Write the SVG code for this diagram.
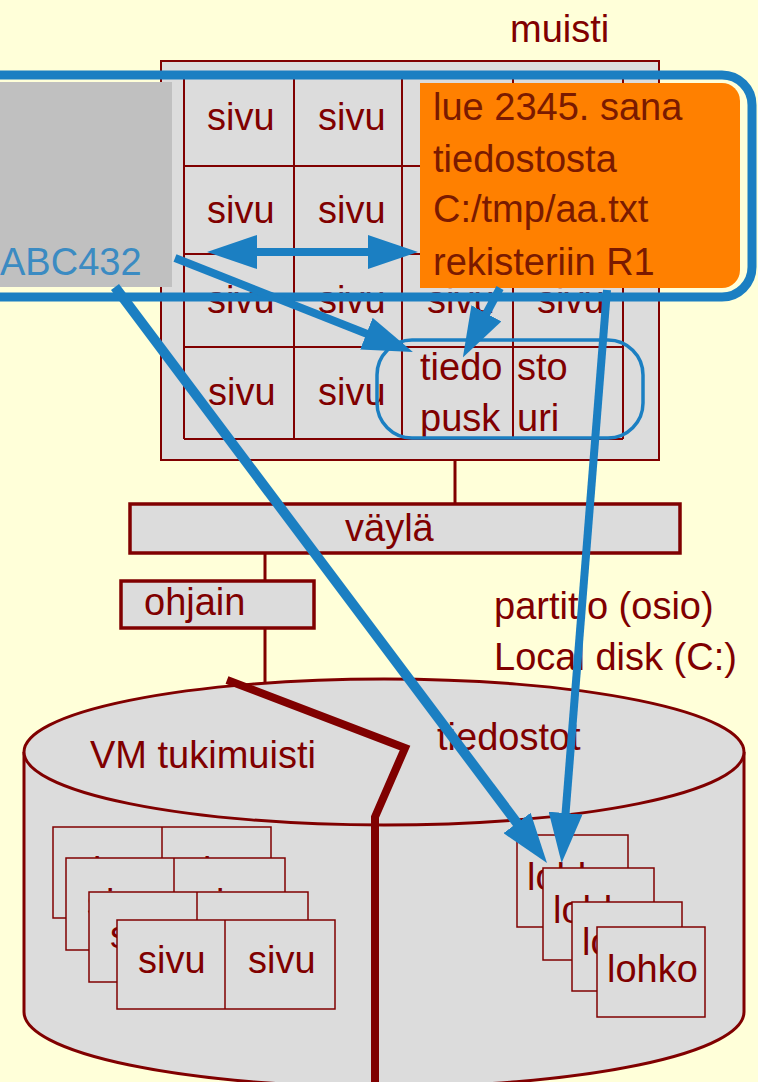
<svg xmlns="http://www.w3.org/2000/svg" width="758" height="1082" viewBox="0 0 758 1082">
<defs>
<style>
text{font-family:"Liberation Sans",Arial,sans-serif;font-size:38px;fill:#800000}
.box{fill:#dcdcdc;stroke:#800000;stroke-width:2}
.thick{fill:#dcdcdc;stroke:#800000;stroke-width:3.5}
.pg{fill:#dcdcdc;stroke:#800000;stroke-width:1.5}
.grid{stroke:#800000;stroke-width:2;fill:none}
.stem{stroke:#800000;stroke-width:3;fill:none}
.blue{stroke:#1b7fc2;fill:none}
.otxt{fill:#7a1a00}
</style>
<marker id="ah" markerUnits="userSpaceOnUse" markerWidth="50" markerHeight="34" viewBox="0 0 50 34" refX="20" refY="17" orient="auto-start-reverse"><path d="M0,0 L50,17 L0,34 z" fill="#1b7fc2"/></marker>
</defs>
<rect x="0" y="0" width="758" height="1082" fill="#ffffd9"/>

<g id="memory">
<rect class="box" x="161" y="61" width="498" height="399"/>
<path class="grid" d="M184,78V439M294,78V439M402,78V439M513,78V439M623,78V439M184,78H623M184,166H623M184,254H623M184,347H623M184,439H623"/>
<text x="510" y="42">muisti</text>
<text x="207" y="130">sivu</text><text x="318" y="130">sivu</text>
<text x="207" y="223">sivu</text><text x="318" y="223">sivu</text>
<text x="207" y="313">sivu</text><text x="318" y="313">sivu</text><text x="427" y="313">sivu</text><text x="537" y="313">sivu</text>
<text x="208" y="405">sivu</text><text x="318" y="405">sivu</text>
<text x="420" y="380">tiedo</text><text x="517" y="380">sto</text>
<text x="420" y="431">pusk</text><text x="517" y="431">uri</text>
</g>

<g id="process">
<rect x="0" y="82" width="172" height="205" fill="#c0c0c0"/>
<text x="0" y="275" style="fill:#3b8bc2">ABC432</text>
</g>

<g id="request">
<path d="M420,83H722A18,18 0 0 1 740,101V270A18,18 0 0 1 722,288H420Z" fill="#ff8000"/>
<text class="otxt" x="433" y="120">lue 2345. sana</text>
<text class="otxt" x="433" y="172">tiedostosta</text>
<text class="otxt" x="433" y="222">C:/tmp/aa.txt</text>
<text class="otxt" x="433" y="275">rekisteriin R1</text>
</g>

<g id="bus">
<path class="stem" d="M455,460V503"/>
<rect class="thick" x="130" y="504" width="550" height="49"/>
<text x="345" y="541">väylä</text>
</g>

<g id="controller">
<path class="stem" d="M265,553V580M265,628V683"/>
<rect class="thick" x="121" y="581" width="193" height="47"/>
<text x="144" y="615">ohjain</text>
</g>

<g id="partition-label">
<text x="494" y="619">partitio (osio)</text>
<text x="494" y="670">Local disk (C:)</text>
</g>

<g id="disk">
<path d="M24,752V1012A360,75 0 0 0 744,1012V752" fill="#dcdcdc" stroke="#800000" stroke-width="3"/>
<ellipse cx="384" cy="752" rx="360" ry="73" fill="#dcdcdc" stroke="#800000" stroke-width="3"/>
<polyline points="227,680 405,748 375,817 375,1082" fill="none" stroke="#800000" stroke-width="8"/>
<text x="90" y="768">VM tukimuisti</text>
<text x="437" y="750">tiedostot</text>
</g>

<g id="swap-pages">
<rect class="pg" x="53" y="827" width="218" height="91"/><path class="grid" style="stroke-width:1.5" d="M162,827V918"/>
<text x="74" y="884">sivu</text><text x="184" y="884">sivu</text>
<rect class="pg" x="66" y="858" width="219" height="92"/><path class="grid" style="stroke-width:1.5" d="M174,858V950"/>
<text x="87" y="916">sivu</text><text x="197" y="916">sivu</text>
<rect class="pg" x="89" y="892" width="219" height="90"/><path class="grid" style="stroke-width:1.5" d="M197,892V982"/>
<text x="110" y="948">sivu</text><text x="220" y="948">sivu</text>
<rect class="pg" x="117" y="920" width="218" height="89"/><path class="grid" style="stroke-width:1.5" d="M225,920V1009"/>
<text x="138" y="973">sivu</text><text x="248" y="973">sivu</text>
</g>

<g id="file-blocks">
<rect class="pg" x="517" y="835" width="111" height="92"/><text x="527" y="890">lohko</text>
<rect class="pg" x="543" y="868" width="111" height="92"/><text x="553" y="923">lohko</text>
<rect class="pg" x="572" y="902" width="110" height="89"/><text x="582" y="955">lohko</text>
<rect class="pg" x="597" y="927" width="108" height="90"/><text x="607" y="982">lohko</text>
</g>

<g id="connectors">
<rect class="blue" x="-40" y="75" width="792" height="222" rx="30" ry="30" stroke-width="9"/>
<rect class="blue" x="377" y="340" width="266" height="98" rx="35" ry="35" stroke-width="3.5"/>
<line class="blue" x1="237" y1="252" x2="388" y2="252" stroke-width="8" marker-start="url(#ah)" marker-end="url(#ah)"/>
<line class="blue" x1="175" y1="258" x2="385" y2="341" stroke-width="8" marker-end="url(#ah)"/>
<line class="blue" x1="500" y1="288" x2="477" y2="331" stroke-width="8" marker-end="url(#ah)"/>
<line class="blue" x1="115" y1="287" x2="529" y2="839" stroke-width="10" marker-end="url(#ah)"/>
<line class="blue" x1="607" y1="290" x2="564" y2="833" stroke-width="8" marker-end="url(#ah)"/>
</g>
</svg>
